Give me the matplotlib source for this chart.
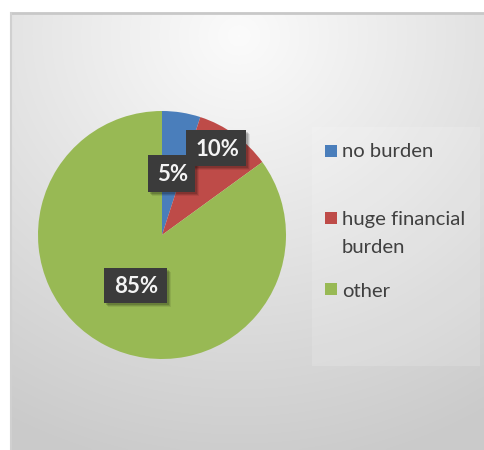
import numpy as np
import matplotlib
matplotlib.use("Agg")
import matplotlib.pyplot as plt
from matplotlib.patches import Rectangle

categories = ["no burden", "huge financial\nburden", "other"]
values = [5, 10, 85]
labels = ["5%", "10%", "85%"]
colors = ["#4a7ebb", "#be4b48", "#98b954"]

W, H = 484, 450
fig = plt.figure(figsize=(W / 100, H / 100), dpi=100)
fig.patch.set_facecolor("white")

# background gradient of chart area
bg = fig.add_axes([11 / W, 0, 1 - 11 / W, 1 - 13 / H])
bg.set_axis_off()
ny, nx = 200, 200
yy, xx = np.mgrid[0:ny, 0:nx]
cx, cy = 0.48 * nx, 0.05 * ny
d = np.sqrt(((xx - cx) / nx) ** 2 * 1.0 + ((yy - cy) / ny) ** 2)
v = 0.985 - 0.19 * np.clip(d / 1.0, 0, 1)
v = np.clip(v, 0.78, 1)
img = np.dstack([v, v, v])
bg.imshow(img, aspect="auto", extent=[0, 1, 0, 1], origin="upper", interpolation="bicubic")
bg.set_xlim(0, 1)
bg.set_ylim(0, 1)
bg.plot([0, 1], [1, 1], color="#c8c8c8", lw=2, transform=bg.transAxes, clip_on=False)
bg.plot([0, 0], [0, 1], color="#d0d0d0", lw=1.5, transform=bg.transAxes, clip_on=False)

# pie
cxp, cyp, r = 162, 235, 124
ax = fig.add_axes([(cxp - r) / W, (H - cyp - r) / H, 2 * r / W, 2 * r / H])
ax.pie(values, colors=colors, startangle=90, counterclock=False,
       wedgeprops=dict(linewidth=0))
ax.set_aspect("auto")
ax.set_xlim(-1, 1)
ax.set_ylim(-1, 1)

def px(x, y):
    return x / W, 1 - y / H

label_boxes = [(148, 155, 195, 192), (186, 130, 246, 166), (104, 268, 167, 303)]
for (x0, y0, x1, y1), t in zip(label_boxes, labels):
    for k, a in [(4, 0.08), (3, 0.12), (2, 0.15)]:
        sx0, sy0 = px(x0 + k, y1 + k)
        fig.patches.append(Rectangle((sx0, sy0), (x1 - x0) / W, (y1 - y0) / H,
                                     transform=fig.transFigure, facecolor="black",
                                     alpha=a, edgecolor="none", zorder=5))
    bx0, by0 = px(x0, y1)
    fig.patches.append(Rectangle((bx0, by0), (x1 - x0) / W, (y1 - y0) / H,
                                 transform=fig.transFigure, facecolor="#3b3b3b",
                                 edgecolor="none", zorder=6))
    tx, ty = px((x0 + x1) / 2 + 1, (y0 + y1) / 2 + 1)
    fig.text(tx, ty, t, color="#f4f4f4", fontsize=16, fontweight="bold",
             family="Lato", ha="center", va="center", zorder=7)

# legend box
lx0, ly0 = px(312, 366)
fig.patches.append(Rectangle((lx0, ly0), (480 - 312) / W, (366 - 127) / H,
                             transform=fig.transFigure, facecolor="white",
                             alpha=0.15, edgecolor="none", zorder=3))
leg_sq_y = [150, 217, 288]
leg_lines = [[("no burden", 150)], [("huge financial", 218), ("burden", 246)], [("other", 290)]]
for c, yl, lines in zip(colors, leg_sq_y, leg_lines):
    sx, sy = px(325, yl + 7)
    fig.patches.append(Rectangle((sx, sy), 12 / W, 12 / H, transform=fig.transFigure,
                                 facecolor=c, edgecolor="none", zorder=4))
    for txt, ty_ in lines:
        tx, ty = px(342, ty_)
        fig.text(tx, ty, txt, color="#404040", fontsize=14.6, family="Lato",
                 ha="left", va="center_baseline", zorder=4)

fig.savefig("out.png", dpi=100)
